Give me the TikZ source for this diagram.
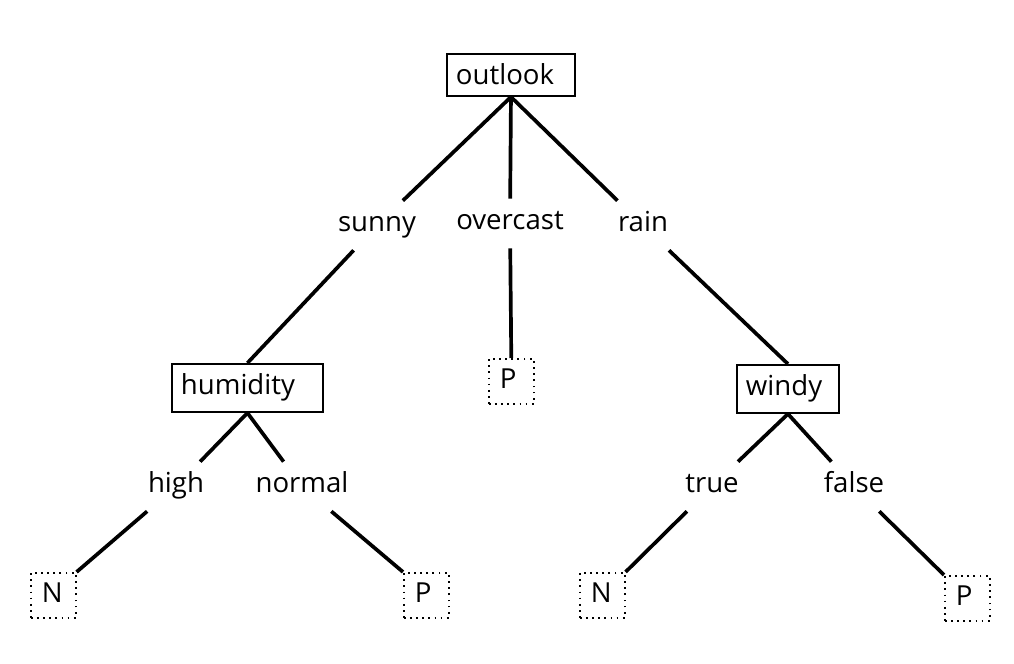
\documentclass[tikz,border=0pt]{standalone}
\usepackage{fontspec}
\setmainfont{Open Sans}
\usetikzlibrary{positioning}

\begin{document}
\begin{tikzpicture}
    [
        attr_node/.style={rectangle, draw=black, line width=1.1pt, fill=white, font=\fontsize{15.7}{19}\selectfont, align=left, inner xsep=0.18cm, inner ysep=0.19cm, text height=0.42cm, text depth=0.16cm, anchor=north west},
        leaf_node/.style={rectangle, draw=black, line width=0.9pt, dash pattern=on 1pt off 2.5pt, font=\fontsize{15.7}{19}\selectfont, align=left, text width=0.46cm, inner xsep=0.22cm, inner ysep=0.18cm, text height=0.42cm, text depth=0.12cm, anchor=north west},
        value_node/.style={rectangle, font=\fontsize{15.7}{19}\selectfont, inner xsep=0.1cm, inner ysep=0.2cm, text height=0.42cm, text depth=0.16cm, anchor=base},
    ]
        \useasboundingbox (0,0) rectangle (20.28,13.28) ;
        \node[attr_node, text width=2.2cm, text depth=0.04cm] (outlook) at (8.92,12.22) {outlook} ;
        \node[attr_node, text width=2.66cm] (humidity) at (3.42,6.02) {humidity} ;
        \node[attr_node, text width=1.68cm] (windy) at (14.72,6.00) {windy} ;
        \node[value_node] (sunny) at (7.54,8.64) {sunny} ;
        \node[value_node] (overcast) at (10.20,8.68) {overcast} ;
        \node[value_node] (rain) at (12.86,8.64) {rain} ;
        \node[value_node] (high) at (3.52,3.42) {high} ;
        \node[value_node] (normal) at (6.04,3.42) {normal} ;
        \node[value_node] (true) at (14.24,3.42) {true} ;
        \node[value_node] (false) at (17.08,3.42) {false} ;
        \node[leaf_node] (p1) at (9.76,6.12) {P} ;
        \node[leaf_node] (n1) at (0.60,1.84) {N} ;
        \node[leaf_node] (p2) at (8.06,1.84) {P} ;
        \node[leaf_node] (n2) at (11.58,1.84) {N} ;
        \node[leaf_node] (p3) at (18.88,1.78) {P} ;
        \draw[line width=2.1pt, color=black] (outlook.south) -- (sunny) ;
        \draw[line width=2.1pt, color=black] (outlook.south) -- (overcast) ;
        \draw[line width=2.1pt, color=black] (outlook.south) -- (rain) ;
        \draw[line width=2.1pt, color=black] (sunny) -- (humidity.north) ;
        \draw[line width=2.1pt, color=black] (overcast) -- (p1.north) ;
        \draw[line width=2.1pt, color=black] (rain) -- (windy.north) ;
        \draw[line width=2.1pt, color=black] (humidity.south) -- (high) ;
        \draw[line width=2.1pt, color=black] (humidity.south) -- (normal) ;
        \draw[line width=2.1pt, color=black] (high) -- (n1.north east) ;
        \draw[line width=2.1pt, color=black] (normal) -- (p2.north west) ;
        \draw[line width=2.1pt, color=black] (windy.south) -- (true) ;
        \draw[line width=2.1pt, color=black] (windy.south) -- (false) ;
        \draw[line width=2.1pt, color=black] (true) -- (n2.north east) ;
        \draw[line width=2.1pt, color=black] (false) -- (p3.north west) ;
    \end{tikzpicture}
\end{document}
